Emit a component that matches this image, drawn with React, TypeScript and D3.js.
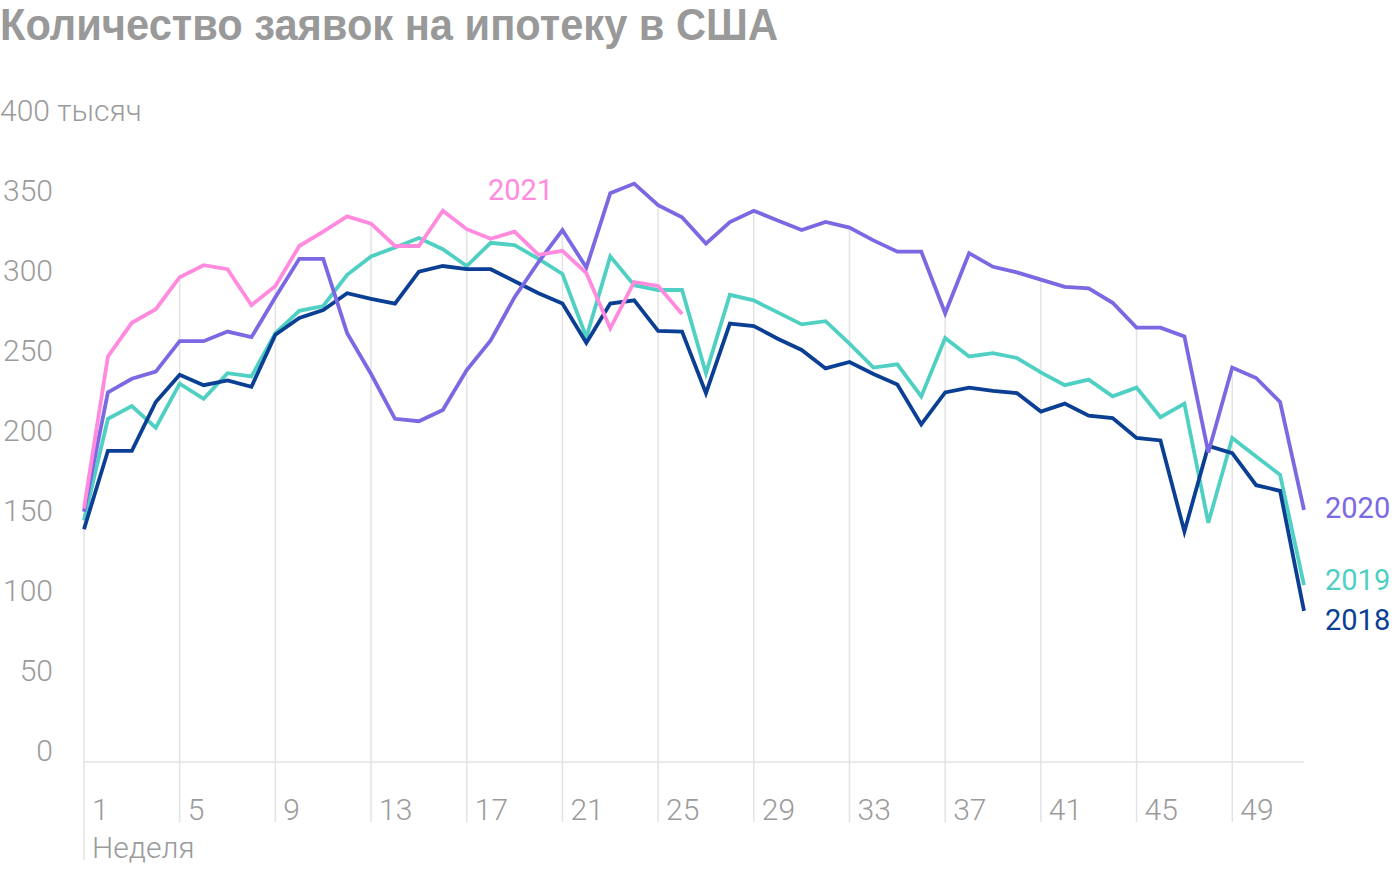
import React from "react";
import * as d3 from "d3";

const weeks = d3.range(1, 53);
const tickWeeks = [1, 5, 9, 13, 17, 21, 25, 29, 33, 37, 41, 45, 49];
const yTicks = [0, 50, 100, 150, 200, 250, 300, 350];

const s2018 = [138, 187, 187, 217.5, 234.5, 228, 231, 227, 259.5, 270, 275, 285.5, 282, 279, 299, 302.5, 300.5, 300.5, 293, 285.5, 279, 254.5, 279, 281, 262, 261.5, 223, 266.5, 265, 257, 250, 238.5, 242.5, 235, 228.5, 203.5, 223.5, 226.5, 224.5, 223, 211.5, 216.5, 209, 207.5, 195, 193.5, 136.5, 190, 185.5, 165.5, 162, 87];
const s2019 = [143.5, 207, 215, 201.5, 229, 219.5, 235.5, 233.5, 260.5, 274.5, 277.5, 297, 308.5, 314, 320, 313, 302.5, 317, 315.5, 307, 297.5, 258, 308.5, 290.5, 287.5, 287.5, 235.5, 284.5, 281, 273.5, 266, 268, 254, 239, 241, 221, 257.5, 246, 248, 245, 236, 228, 231.5, 221, 226.5, 208, 216.5, 142, 195, 183.5, 172, 103];
const s2020 = [149, 223.5, 232, 236.5, 255.5, 255.5, 261.5, 258, 283, 307, 307, 260.5, 235, 207, 205.5, 212.5, 237.5, 256, 283, 305, 325, 301.5, 348, 354, 340.5, 333, 316.5, 330, 337, 331, 325, 330, 326.5, 318.5, 311.5, 311.5, 273, 310.5, 302, 298.5, 294, 289.5, 288.5, 279.5, 264, 264, 258.5, 186, 239, 232.5, 217.5, 150];
const s2021 = [151, 246, 267, 275.5, 295.5, 303, 300.5, 278, 290, 315, 324, 333.5, 329, 315, 315, 337, 325.5, 319.5, 324, 309.5, 312, 298, 263.5, 292.5, 290, 272.5];

const seriesNames = ["2019", "2018", "2020", "2021"];
const seriesValues = [s2019, s2018, s2020, s2021];
const seriesColors = ["#4fd0c3", "#0a3f93", "#7b68e3", "#ff8ade"];

const W = 1400;
const H = 872;

export default function App() {
  const x = d3.scaleLinear().domain([1, 52]).range([84, 1304]);
  const y = d3.scaleLinear().domain([0, 400]).range([750, 110]);
  const line = d3
    .line<number>()
    .x((_, i) => x(weeks[i]))
    .y((d) => y(d));

  const maxAt = (w: number) =>
    d3.max(seriesValues, (s) => (s[w - 1] !== undefined ? s[w - 1] : -Infinity)) as number;

  const grey = "#9b9b9b";
  const tickFont = { fontFamily: "Roboto", fontWeight: 300, fontSize: 30, fill: grey };

  const labels = [
    { text: "2020", color: "#7b68e3", x: 1325, y: 518 },
    { text: "2019", color: "#4fd0c3", x: 1325, y: 590 },
    { text: "2018", color: "#0a3f93", x: 1325, y: 630 },
    { text: "2021", color: "#ff8ade", x: 488, y: 200 },
  ];

  return (
    <svg
      width={W}
      height={H}
      style={{ position: "absolute", left: 0, top: 0, background: "#fff" }}
    >
      <text
        x={0}
        y={40}
        textLength={778}
        lengthAdjust="spacingAndGlyphs"
        style={{ fontFamily: "'Liberation Sans', Arial, sans-serif", fontWeight: 700, fontSize: 45, fill: "#999999" }}
      >
        Количество заявок на ипотеку в США
      </text>

      {tickWeeks.map((w) => (
        <line
          key={"g" + w}
          x1={x(w)}
          x2={x(w)}
          y1={y(maxAt(w))}
          y2={w === 1 ? 860 : 822}
          stroke="#e3e3e3"
          strokeWidth={1.5}
        />
      ))}
      <line x1={x(1)} x2={x(52)} y1={762} y2={762} stroke="#e3e3e3" strokeWidth={1.5} />

      {yTicks.map((v) => (
        <text key={"y" + v} x={53} y={y(v) + 11} textAnchor="end" style={tickFont}>
          {v}
        </text>
      ))}
      <text x={0} y={y(400) + 11} style={tickFont}>
        400 тысяч
      </text>

      {tickWeeks.map((w) => (
        <text key={"t" + w} x={x(w) + 8} y={820} style={tickFont}>
          {w}
        </text>
      ))}
      <text x={92} y={858} style={tickFont}>
        Неделя
      </text>

      {seriesValues.map((s, i) => (
        <path
          key={seriesNames[i]}
          d={line(s) || ""}
          fill="none"
          stroke={seriesColors[i]}
          strokeWidth={3.8}
        />
      ))}

      {labels.map((l) => (
        <text
          key={"l" + l.text}
          x={l.x}
          y={l.y}
          style={{ fontFamily: "Roboto", fontWeight: 400, fontSize: 29, fill: l.color }}
        >
          {l.text}
        </text>
      ))}
    </svg>
  );
}
